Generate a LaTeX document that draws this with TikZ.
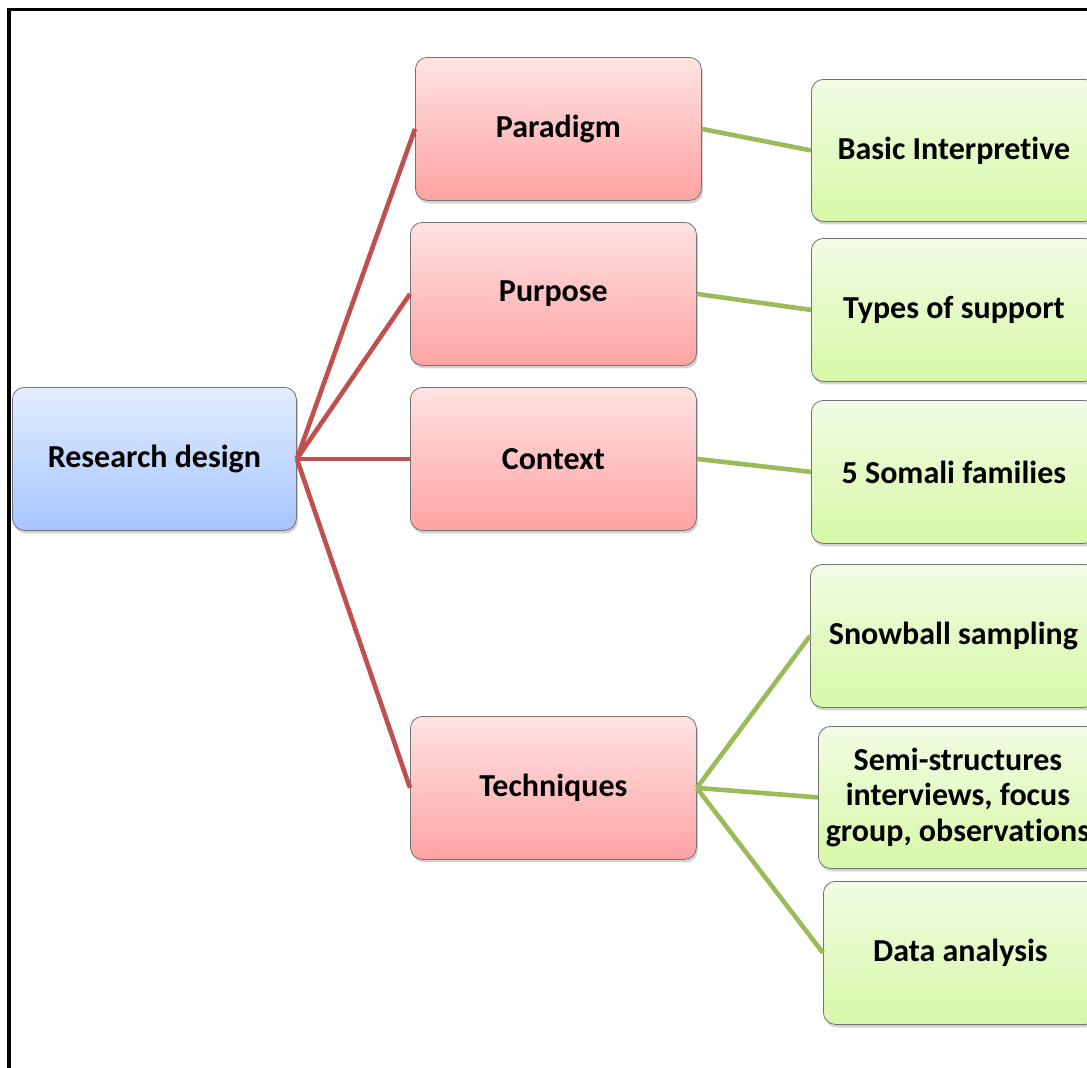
\documentclass[tikz,border=0pt]{standalone}
\usepackage{fontspec}
\setmainfont{Carlito}[Ligatures=NoCommon]
\usetikzlibrary{shadows}
\definecolor{redline}{HTML}{C0504D}
\definecolor{greenline}{HTML}{9BBB59}
\definecolor{pinktop}{HTML}{FFE2E2}
\definecolor{pinkbot}{HTML}{FFA3A3}
\definecolor{bluetop}{HTML}{E2EDFF}
\definecolor{bluebot}{HTML}{A6C5FF}
\definecolor{greentop}{HTML}{F2FCE4}
\definecolor{greenbot}{HTML}{D6F8A6}
\begin{document}
\begin{tikzpicture}[x=1pt,y=-1pt,
  box/.style={draw=black!55, line width=0.8pt, rounded corners=12pt, anchor=north west,
    inner sep=2pt, align=center, font=\bfseries\fontsize{32}{35.5}\selectfont,
    drop shadow={shadow xshift=1.5pt, shadow yshift=-3pt, opacity=0.35}},
  bluebox/.style={box, top color=bluetop, bottom color=bluebot},
  redbox/.style={box, top color=pinktop, bottom color=pinkbot},
  greenbox/.style={box, top color=greentop, bottom color=greenbot},
  redc/.style={draw=redline, line width=4.6pt},
  greenc/.style={draw=greenline, line width=4.6pt}]
\useasboundingbox (0,0) rectangle (1087,1068);
\clip (0,0) rectangle (1087,1068);
\fill[white] (0,0) rectangle (1087,1068);
% frame
\draw[line width=3.6pt] (9,1090) -- (9,9.5) -- (1100,9.5);
% nodes
\node[bluebox, minimum width=284pt, minimum height=143pt] (rd) at (12,387) {Research design};
\node[redbox, minimum width=286pt, minimum height=143pt] (par) at (415,57) {Paradigm};
\node[redbox, minimum width=286pt, minimum height=143pt] (pur) at (410,222) {Purpose};
\node[redbox, minimum width=286pt, minimum height=143pt] (con) at (410,387) {Context};
\node[redbox, minimum width=286pt, minimum height=143pt] (tec) at (410,716) {Techniques};
\node[greenbox, minimum width=285pt, minimum height=142pt] (bas) at (811,79) {Basic Interpretive};
\node[greenbox, minimum width=285pt, minimum height=143pt] (typ) at (811,238) {Types of support};
\node[greenbox, minimum width=285pt, minimum height=143pt] (som) at (811,400) {5 Somali families};
\node[greenbox, minimum width=286pt, minimum height=143pt] (sno) at (810,564) {Snowball sampling};
\node[greenbox, minimum width=279pt, minimum height=142pt] (sem) at (818,726) {Semi-structures\\interviews, focus\\group, observations};
\node[greenbox, minimum width=274pt, minimum height=143pt] (dat) at (823,881) {Data analysis};
% connectors
\draw[redc] (rd.east) -- (par.west);
\draw[redc] (rd.east) -- (pur.west);
\draw[redc] (rd.east) -- (con.west);
\draw[redc] (rd.east) -- (tec.west);
\draw[greenc] (par.east) -- (bas.west);
\draw[greenc] (pur.east) -- (typ.west);
\draw[greenc] (con.east) -- (som.west);
\draw[greenc] (tec.east) -- (sno.west);
\draw[greenc] (tec.east) -- (sem.west);
\draw[greenc] (tec.east) -- (dat.west);
\end{tikzpicture}
\end{document}
